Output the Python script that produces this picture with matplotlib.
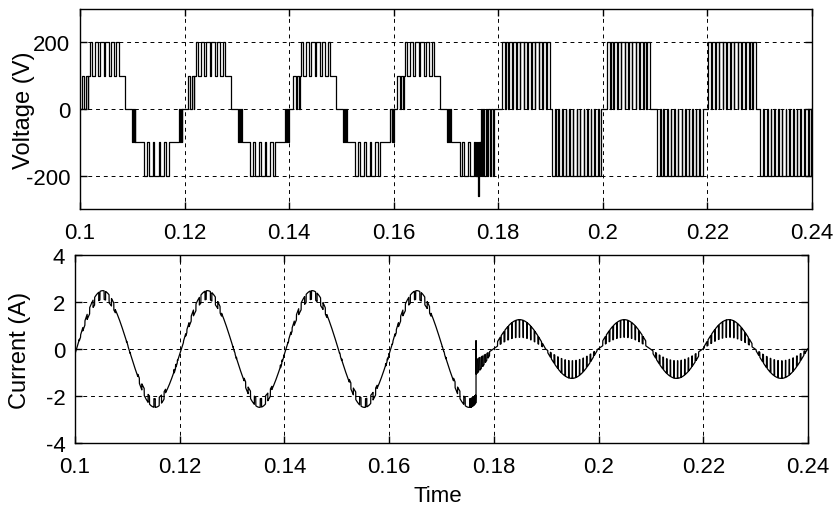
import numpy as np
import matplotlib
matplotlib.use('Agg')
import matplotlib.pyplot as plt

# 字型設定 (MATLAB 風格, 負號用一般連字號)
plt.rcParams['font.family'] = ['Liberation Sans', 'DejaVu Sans']
plt.rcParams['font.size'] = 16
plt.rcParams['axes.unicode_minus'] = False

# ---- 圖上讀出的數值 ----
x_ticks = [0.1, 0.12, 0.14, 0.16, 0.18, 0.2, 0.22, 0.24]
x_labels = ['0.1', '0.12', '0.14', '0.16', '0.18', '0.2', '0.22', '0.24']
v_ticks = [-200, 0, 200]
i_ticks = [-4, -2, 0, 2, 4]

# 第一段: 五電平階梯 (每個週期的起點, 以及週期內各區段的相對時間)
cycle_start = [0.1003, 0.1206, 0.1407, 0.1606]
step_off = [0.0000, 0.0013, 0.0074, 0.0083, 0.0095, 0.0103, 0.0117, 0.0170, 0.0186, 0.0193]
step_len = [0.0013, 0.0061, 0.0009, 0.0012, 0.0008, 0.0014, 0.0053, 0.0016, 0.0007, 0.0010]
step_base = [0, 100, 100, 0, 0, -100, -100, -100, -100, 0]
step_peak = [100, 200, 100, 0, -100, -100, -200, -100, 0, 0]
step_period = 0.001

# 過渡區段
trans_start = [0.1755, 0.1767, 0.1793]
trans_len = [0.0012, 0.0026, 0.0013]
trans_base = [-100, 0, 0]
trans_peak = [-200, -200, 0]
trans_period = [0.0001, 0.0005, 0.001]
v_spike_t = 0.1762
v_spike = -262

# 第二段: 三電平 (0 與 +/-200 之間切換)
lobe_start = [0.1806, 0.1899, 0.1902, 0.1998, 0.2007, 0.2091, 0.2103, 0.2192, 0.2201, 0.2294, 0.2300]
lobe_end = [0.1899, 0.1902, 0.1998, 0.2007, 0.2091, 0.2103, 0.2192, 0.2201, 0.2294, 0.2300, 0.2400]
lobe_peak = [200, 0, -200, 0, 200, 0, -200, 0, 200, 0, -200]
lobe_period = 0.0007

# 電流: 兩段的零點、振幅與漣波
cur_zero = [0.1003, 0.1799]
cur_amp = [2.3, 1.25]
cur_ripple = [0.08, 0.6]
cur_switch_t = 0.1766
cur_spike = 0.36


def chop(a, b, base, peak, period, d_lo, d_hi, edges):
    """在 [a, b] 之間於 base 與 peak 之間切換, 加入邊緣 (時間, 電壓, 狀態)"""
    if base == peak:
        edges.append((a, base, 0))
        return
    n = max(2, int(round((b - a) / period)))
    w = (b - a) / n
    edges.append((a, base, -1))
    for k in range(n):
        d = d_lo + (d_hi - d_lo) * np.sin(np.pi * (k + 0.5) / n)
        c = a + (k + 0.5) * w
        edges.append((c - d * w / 2, peak, 1))
        edges.append((c + d * w / 2, base, -1))


edges = [(0.1, 0, 0)]
for c0 in cycle_start:
    for off, ln, lo, hi in zip(step_off, step_len, step_base, step_peak):
        chop(c0 + off, c0 + off + ln, lo, hi, step_period, 0.3, 0.8, edges)
edges = [e for e in edges if e[0] < trans_start[0]]
for a, ln, lo, hi, p in zip(trans_start, trans_len, trans_base, trans_peak, trans_period):
    chop(a, a + ln, lo, hi, p, 0.5, 0.5, edges)
for a, b, hi in zip(lobe_start, lobe_end, lobe_peak):
    chop(a, b, 0, hi, lobe_period, 0.7, 0.9, edges)
edges.append((v_spike_t, v_spike, 1))
edges.append((v_spike_t + 0.00002, trans_peak[0], 1))
edges.sort(key=lambda e: e[0])

et = np.array([e[0] for e in edges] + [0.24])
ev = np.array([e[1] for e in edges] + [edges[-1][1]])
es = np.array([e[2] for e in edges] + [edges[-1][2]])

# 電流 (以電壓切換狀態產生漣波)
t = np.arange(0.1, 0.24, 2e-6)
idx = np.searchsorted(et, t, side='right') - 1
state = es[idx]
i1 = cur_amp[0] * np.sin(2 * np.pi * 50 * (t - cur_zero[0])) * (1 + cur_ripple[0] * state)
i2 = cur_amp[1] * np.sin(2 * np.pi * 50 * (t - cur_zero[1])) * np.where(state == 1, 1.0, 1 - cur_ripple[1])
m = t < cur_switch_t
i_val = np.concatenate([i1[m], [cur_spike], i2[~m]])
t_val = np.concatenate([t[m], [cur_switch_t], t[~m]])

fig = plt.figure(figsize=(8.34, 5.1), dpi=100)
ax1 = fig.add_axes([0.0959, 0.5882, 0.8777, 0.3922])
ax2 = fig.add_axes([0.0899, 0.1294, 0.8789, 0.3686])

ax1.plot(et, ev, color='k', linewidth=0.9, drawstyle='steps-post')
ax2.plot(t_val, i_val, color='k', linewidth=0.9)

for ax in (ax1, ax2):
    ax.set_xlim(0.1, 0.24)
    ax.set_xticks(x_ticks)
    ax.set_xticklabels(x_labels)
    ax.grid(True, color='k', linestyle=(0, (4, 4)), linewidth=0.7)
    ax.tick_params(direction='in', length=5, width=1, top=True, right=True, pad=7)
    ax.tick_params(axis='x', pad=9)
    for s in ax.spines.values():
        s.set_linewidth(1)

ax1.set_ylim(-300, 300)
ax1.set_yticks(v_ticks)
ax1.set_ylabel('Voltage (V)', fontsize=17)
ax1.yaxis.set_label_coords(-0.061, 0.5)

ax2.set_ylim(-4, 4)
ax2.set_yticks(i_ticks)
ax2.set_ylabel('Current (A)', fontsize=17)
ax2.yaxis.set_label_coords(-0.06, 0.5)
ax2.set_xlabel('Time')
ax2.xaxis.set_label_coords(0.495, -0.225)

plt.savefig('out.png', dpi=100)
